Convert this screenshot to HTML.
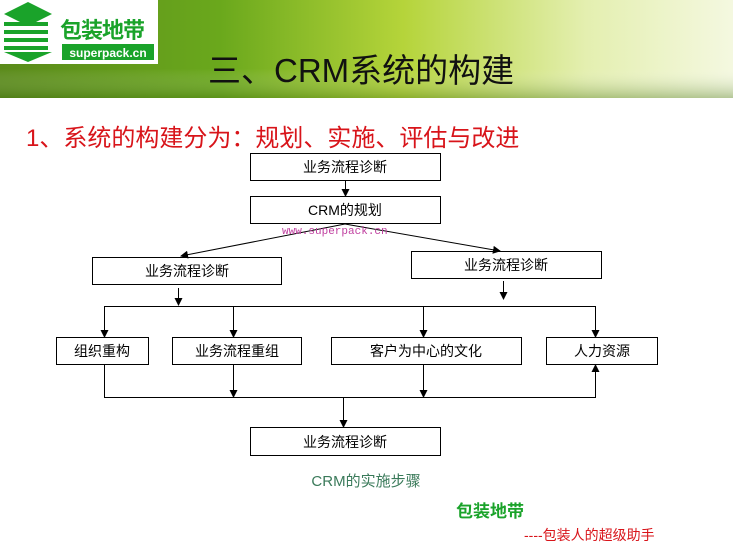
<!DOCTYPE html>
<html><head><meta charset="utf-8"><style>
body{margin:0;width:733px;height:550px;overflow:hidden;background:#fff;font-family:"Liberation Sans","Noto Sans CJK SC",sans-serif}
</style></head><body>
<svg width="733" height="550" viewBox="0 0 733 550" xmlns="http://www.w3.org/2000/svg" font-family="Liberation Sans, Noto Sans CJK SC, sans-serif">
<defs>
<linearGradient id="hg" x1="0" y1="0" x2="1" y2="0">
<stop offset="0" stop-color="#5a8a1a"/><stop offset="0.3" stop-color="#6aa81c"/><stop offset="0.55" stop-color="#b5d43a"/><stop offset="0.8" stop-color="#e4efb0"/><stop offset="1" stop-color="#f4f8e0"/>
</linearGradient>
<linearGradient id="vg" x1="0" y1="0" x2="0" y2="1">
<stop offset="0.7" stop-color="#fff" stop-opacity="0"/><stop offset="1" stop-color="#3d6a10" stop-opacity="0.35"/>
</linearGradient>
<marker id="a" markerWidth="8" markerHeight="8" refX="7" refY="4" orient="auto" markerUnits="userSpaceOnUse"><path d="M0,0L8,4L0,8z" fill="#000"/></marker>
</defs>
<rect x="0" y="0" width="733" height="98" fill="url(#hg)"/>
<rect x="0" y="0" width="733" height="98" fill="url(#vg)"/>
<rect x="0" y="0" width="158" height="64" fill="#fff"/>
<g fill="#1aa32a">
<path d="M4,14 L28,2 L52,14 L28,26z"/>
<rect x="4" y="22" width="44" height="4"/><rect x="4" y="30" width="44" height="4"/><rect x="4" y="38" width="44" height="4"/><rect x="4" y="46" width="44" height="4"/>
<path d="M4,52 L28,62 L52,52z"/>
</g>
<text x="60" y="38" font-size="22" font-weight="bold" fill="#1aa32a" letter-spacing="-1">包装地带</text>
<rect x="62" y="44" width="92" height="16" fill="#1aa32a"/>
<text x="108" y="57" font-size="12" font-weight="bold" fill="#fff" text-anchor="middle">superpack.cn</text>
<text x="208" y="82" font-size="33" fill="#111">三、CRM系统的构建</text>
<text x="26" y="146" font-size="24" fill="#d8141a">1、系统的构建分为：规划、实施、评估与改进</text>
<g fill="#fff" stroke="#000" stroke-width="1">
<rect x="250.5" y="153.5" width="190" height="27"/>
<rect x="250.5" y="196.5" width="190" height="27"/>
<rect x="92.5" y="257.5" width="189" height="27"/>
<rect x="411.5" y="251.5" width="190" height="27"/>
<rect x="56.5" y="337.5" width="92" height="27"/>
<rect x="172.5" y="337.5" width="129" height="27"/>
<rect x="331.5" y="337.5" width="190" height="27"/>
<rect x="546.5" y="337.5" width="111" height="27"/>
<rect x="250.5" y="427.5" width="190" height="28"/>
</g>
<g font-size="14" fill="#000" text-anchor="middle">
<text x="345" y="172">业务流程诊断</text>
<text x="345" y="215">CRM的规划</text>
<text x="187" y="276">业务流程诊断</text>
<text x="506" y="270">业务流程诊断</text>
<text x="102" y="356">组织重构</text>
<text x="237" y="356">业务流程重组</text>
<text x="426" y="356">客户为中心的文化</text>
<text x="602" y="356">人力资源</text>
<text x="345" y="447">业务流程诊断</text>
</g>
<g stroke="#000" stroke-width="1" fill="none">
<line x1="345.5" y1="180" x2="345.5" y2="196" marker-end="url(#a)"/>
<line x1="345" y1="224" x2="181" y2="256" marker-end="url(#a)"/>
<line x1="345" y1="224" x2="500" y2="251" marker-end="url(#a)"/>
<line x1="178.5" y1="288" x2="178.5" y2="305" marker-end="url(#a)"/>
<line x1="503.5" y1="281" x2="503.5" y2="299" marker-end="url(#a)"/>
<line x1="104" y1="306.5" x2="595" y2="306.5"/>
<line x1="104.5" y1="306" x2="104.5" y2="337" marker-end="url(#a)"/>
<line x1="233.5" y1="306" x2="233.5" y2="337" marker-end="url(#a)"/>
<line x1="423.5" y1="306" x2="423.5" y2="337" marker-end="url(#a)"/>
<line x1="595.5" y1="306" x2="595.5" y2="337" marker-end="url(#a)"/>
<line x1="104.5" y1="365" x2="104.5" y2="397"/>
<line x1="104" y1="397.5" x2="596" y2="397.5"/>
<line x1="233.5" y1="365" x2="233.5" y2="397" marker-end="url(#a)"/>
<line x1="423.5" y1="365" x2="423.5" y2="397" marker-end="url(#a)"/>
<line x1="595.5" y1="397" x2="595.5" y2="365" marker-end="url(#a)"/>
<line x1="343.5" y1="397" x2="343.5" y2="427" marker-end="url(#a)"/>
</g>
<text x="282" y="234" font-size="11" fill="#c040a0" font-family="Liberation Mono, monospace">www.superpack.cn</text>
<text x="366" y="486" font-size="15" fill="#3a7a5a" text-anchor="middle">CRM的实施步骤</text>
<text x="456" y="517" font-size="17" font-weight="bold" fill="#1aa32a">包装地带</text>
<text x="524" y="540" font-size="14" fill="#d8141a">----包装人的超级助手</text>
</svg>
</body></html>
